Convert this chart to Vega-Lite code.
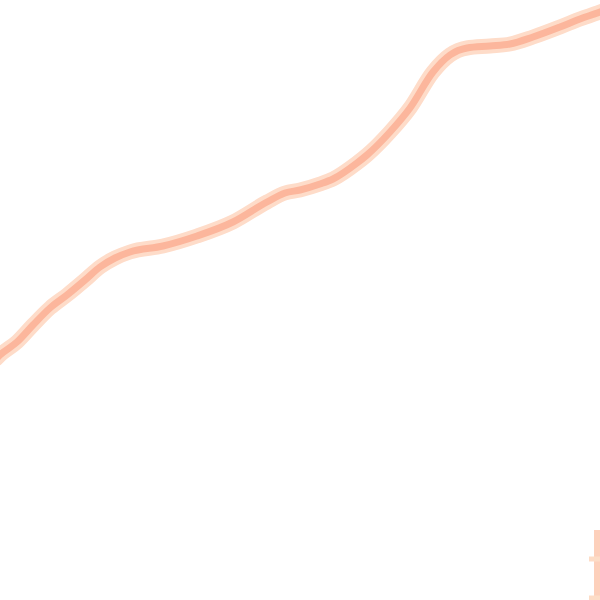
{
  "$schema": "https://vega.github.io/schema/vega-lite/v6.json",
  "autosize": {"type": "fit", "contains": "padding"},
  "width": 600,
  "height": 600,
  "padding": 0,
  "background": "white",
  "config": {"view": {"stroke": null}},
  "datasets": {
    "line": [
      {"x": -5, "y": 240}, {"x": 0, "y": 245}, {"x": 17, "y": 258}, {"x": 33, "y": 275}, {"x": 50, "y": 292},
      {"x": 67, "y": 305}, {"x": 85, "y": 320}, {"x": 100, "y": 333}, {"x": 115, "y": 342},
      {"x": 130, "y": 348}, {"x": 163, "y": 354}, {"x": 197, "y": 364}, {"x": 233, "y": 378},
      {"x": 267, "y": 398}, {"x": 285, "y": 407}, {"x": 300, "y": 410}, {"x": 320, "y": 416},
      {"x": 333, "y": 421}, {"x": 357, "y": 437}, {"x": 367, "y": 445}, {"x": 390, "y": 468},
      {"x": 410, "y": 492}, {"x": 433, "y": 528}, {"x": 450, "y": 545}, {"x": 467, "y": 552},
      {"x": 490, "y": 554}, {"x": 510, "y": 556}, {"x": 533, "y": 563}, {"x": 560, "y": 573},
      {"x": 580, "y": 581}, {"x": 600, "y": 588}, {"x": 605, "y": 590}
    ],
    "bar": [{"x": 597, "y": 70, "y2": -5}],
    "ticks": [
      {"x": 589, "x2": 600, "y": 41},
      {"x": 589, "x2": 600, "y": 2}
    ]
  },
  "layer": [
    {
      "data": {"name": "line"},
      "mark": {"type": "line", "color": "#fedcc9", "strokeWidth": 15, "clip": true, "interpolate": "monotone"},
      "encoding": {
        "x": {"field": "x", "type": "quantitative", "scale": {"domain": [0, 600], "nice": false, "zero": false}, "axis": null},
        "y": {"field": "y", "type": "quantitative", "scale": {"domain": [0, 600], "nice": false, "zero": false}, "axis": null}
      }
    },
    {
      "data": {"name": "line"},
      "mark": {"type": "line", "color": "#fcb69c", "strokeWidth": 7, "clip": true, "interpolate": "monotone"},
      "encoding": {
        "x": {"field": "x", "type": "quantitative"},
        "y": {"field": "y", "type": "quantitative"}
      }
    },
    {
      "data": {"name": "bar"},
      "mark": {"type": "rule", "color": "#fdd0bb", "strokeWidth": 6, "clip": true},
      "encoding": {
        "x": {"field": "x", "type": "quantitative"},
        "y": {"field": "y", "type": "quantitative"},
        "y2": {"field": "y2"}
      }
    },
    {
      "data": {"name": "ticks"},
      "mark": {"type": "rule", "color": "#fddcc6", "strokeWidth": 5, "clip": true},
      "encoding": {
        "x": {"field": "x", "type": "quantitative"},
        "x2": {"field": "x2"},
        "y": {"field": "y", "type": "quantitative"}
      }
    }
  ]
}
